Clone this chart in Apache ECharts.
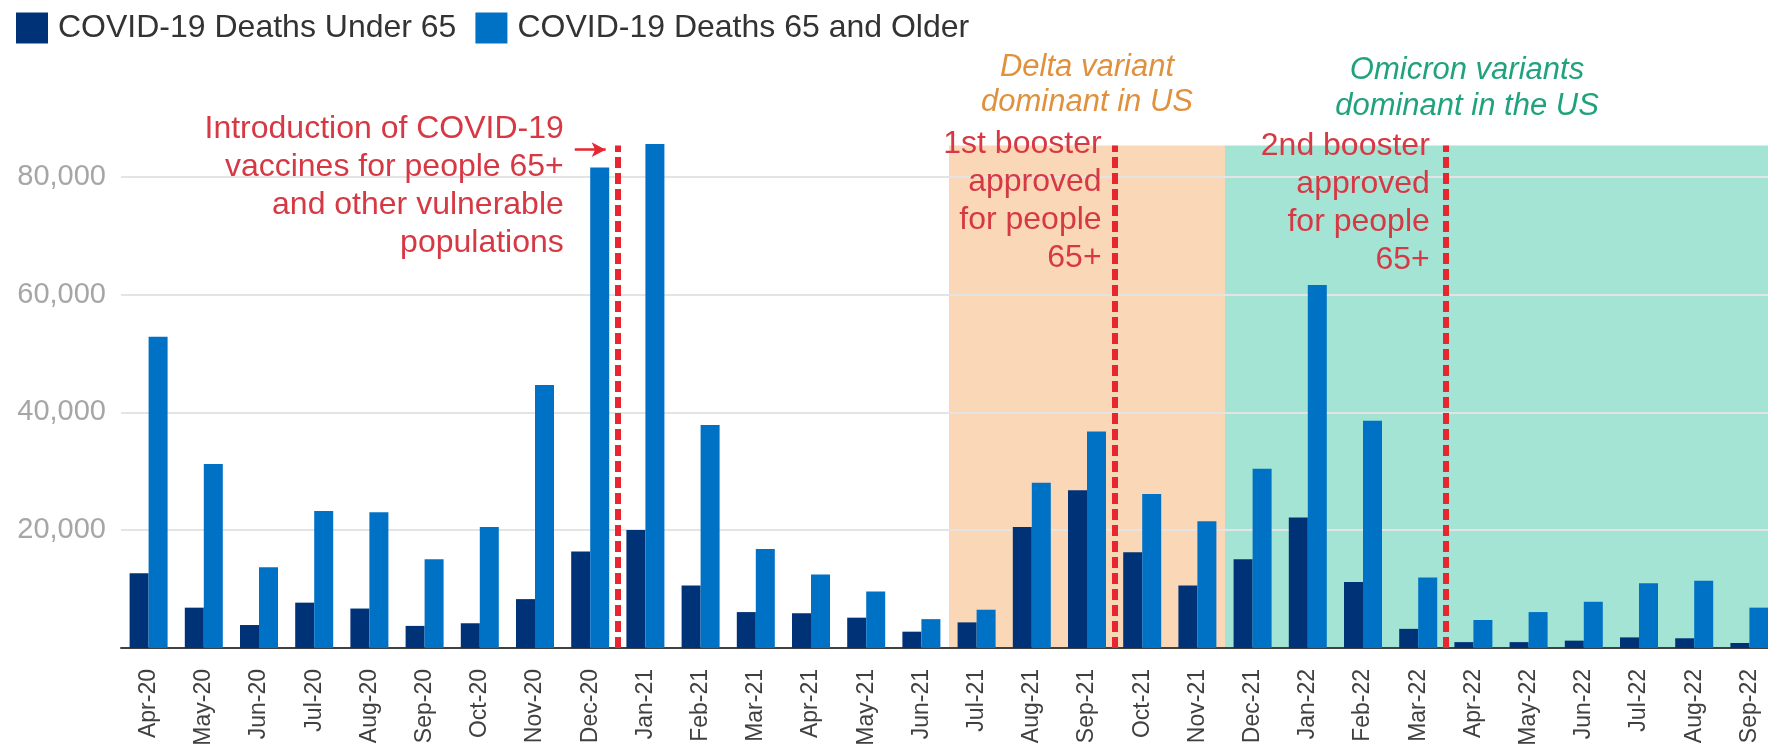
<!DOCTYPE html>
<html>
<head>
<meta charset="utf-8">
<script src="https://cdn.jsdelivr.net/npm/echarts@6/dist/echarts.min.js"></script>
<style>
html,body{margin:0;padding:0;background:#ffffff;}
#c{width:1768px;height:749px;}
</style>
</head>
<body>
<div id="c"></div>
<script>
// ---------- data ----------
const categories = ['Apr-20','May-20','Jun-20','Jul-20','Aug-20','Sep-20','Oct-20','Nov-20','Dec-20',
  'Jan-21','Feb-21','Mar-21','Apr-21','May-21','Jun-21','Jul-21','Aug-21','Sep-21','Oct-21','Nov-21','Dec-21',
  'Jan-22','Feb-22','Mar-22','Apr-22','May-22','Jun-22','Jul-22','Aug-22','Sep-22'];
const under65 = [12700, 6850, 3900, 7700, 6700, 3750, 4200, 8300, 16400,
  20050, 10600, 6100, 5900, 5150, 2770, 4350, 20550, 26800, 16250, 10600, 15050,
  22150, 11200, 3250, 1000, 1000, 1250, 1800, 1650, 850];
const over65 = [52850, 31250, 13700, 23250, 23050, 15050, 20550, 44650, 81600,
  85550, 37850, 16800, 12500, 9600, 4900, 6500, 28050, 36750, 26150, 21500, 30450,
  61650, 38600, 11950, 4750, 6100, 7850, 11000, 11400, 6850];
const seriesNames = ['COVID-19 Deaths Under 65', 'COVID-19 Deaths 65 and Older'];
const yTicks = [0, 20000, 40000, 60000, 80000, 100000];

// event positions, expressed as month-boundary indices (9 = between Dec-20 and Jan-21)
const vaccineBoundary = 9;
const boosterBoundaries = [18, 24];
const deltaPeriod = [15, 20];
const omicronPeriod = [20, 30];
const annotationTop = 85300;

const vaccineLabel = 'Introduction of COVID-19\nvaccines for people 65+\nand other vulnerable\npopulations';
const boosterLabels = ['1st booster\napproved\nfor people\n65+', '2nd booster\napproved\nfor people\n65+'];
const deltaLabel = 'Delta variant\ndominant in US';
const omicronLabel = 'Omicron variants\ndominant in the US';

// ---------- chart ----------
const FONT = "'Liberation Sans', Arial, Helvetica, sans-serif";
const RED_TEXT = '#d63844';
const RED_LINE = '#e8262f';

const chart = echarts.init(document.getElementById('c'), null, {renderer: 'canvas'});

const option = {
  animation: false,
  backgroundColor: '#ffffff',
  legend: {
    data: seriesNames,
    left: 11, top: 7,
    icon: 'rect',
    itemWidth: 32, itemHeight: 31, itemGap: 19,
    selectedMode: false,
    textStyle: {fontSize: 32, color: '#333333', fontFamily: FONT, padding: [0, 0, 0, 5]}
  },
  grid: {left: 121, top: 59, width: 1656, height: 589, containLabel: false, outerBoundsMode: 'none'},
  xAxis: [
    {
      type: 'category', data: categories,
      axisLine: {lineStyle: {color: '#404040', width: 2}},
      axisTick: {show: false},
      axisLabel: {rotate: 90, interval: 0, margin: 21, fontSize: 23, color: '#404040', fontFamily: FONT}
    },
    {type: 'value', min: 0, max: categories.length, show: false}
  ],
  yAxis: {
    type: 'value', min: yTicks[0], max: yTicks[yTicks.length - 1], interval: yTicks[1] - yTicks[0],
    axisLine: {show: false}, axisTick: {show: false},
    axisLabel: {showMinLabel: false, showMaxLabel: false, fontSize: 29, color: '#a6a6a6', margin: 15,
      fontFamily: FONT, formatter: v => v.toLocaleString('en-US')},
    splitLine: {showMinLine: false, showMaxLine: false, lineStyle: {color: '#e4e4e4', width: 2}}
  },
  series: [
    {
      name: seriesNames[0], type: 'bar', data: under65,
      barWidth: 19, barGap: '0%', z: 3,
      itemStyle: {color: '#003278'}
    },
    {
      name: seriesNames[1], type: 'bar', data: over65,
      barWidth: 19, barGap: '0%', z: 3,
      itemStyle: {color: '#0072c6'}
    },
    {
      name: 'periods', type: 'line', xAxisIndex: 1, yAxisIndex: 0, data: [], silent: true,
      markArea: {
        silent: true, z: -1,
        data: [
          [{coord: [deltaPeriod[0], 0], itemStyle: {color: '#fad8b7'}}, {coord: [deltaPeriod[1], annotationTop]}],
          [{coord: [omicronPeriod[0], 0], itemStyle: {color: '#a3e4d4'}}, {coord: [omicronPeriod[1], annotationTop]}]
        ]
      }
    },
    {
      name: 'events', type: 'line', xAxisIndex: 1, yAxisIndex: 0, data: [], silent: true,
      markLine: {
        silent: true, symbol: 'none', z: 6,
        label: {show: false},
        lineStyle: {color: RED_LINE, width: 6, type: [11, 5]},
        data: [vaccineBoundary].concat(boosterBoundaries).map(b => [{coord: [b, 0]}, {coord: [b, annotationTop]}])
      }
    },
    {
      name: 'arrow', type: 'line', xAxisIndex: 1, yAxisIndex: 0, data: [], silent: true,
      markLine: {
        silent: true, symbol: ['none', 'arrow'], symbolSize: [11, 14], z: 6,
        label: {show: false},
        lineStyle: {color: RED_LINE, width: 2.5, type: 'solid'},
        data: [[{coord: [vaccineBoundary - 0.78, 84600]}, {coord: [vaccineBoundary - 0.22, 84600]}]]
      }
    }
  ]
};
chart.setOption(option);

// text annotations anchored to the event positions via the chart's own scales
const px = u => chart.convertToPixel({xAxisIndex: 1, yAxisIndex: 0}, [u, 0])[0];
const redText = (text, x, y) => ({
  type: 'text', x: x, y: y, z: 50, silent: true,
  style: {text: text, fill: RED_TEXT, fontSize: 32, fontFamily: FONT, align: 'right', verticalAlign: 'top', lineHeight: 38}
});
const graphics = [
  redText(vaccineLabel, px(vaccineBoundary) - 54, 110),
  redText(boosterLabels[0], px(boosterBoundaries[0]) - 13, 125),
  redText(boosterLabels[1], px(boosterBoundaries[1]) - 16, 127),
  {
    type: 'text', x: px((deltaPeriod[0] + deltaPeriod[1]) / 2), y: 50, z: 50, silent: true,
    style: {text: deltaLabel, fill: '#df913e', fontSize: 31, fontStyle: 'italic', fontFamily: FONT,
      align: 'center', verticalAlign: 'top', lineHeight: 35}
  },
  {
    type: 'text', x: px(omicronPeriod[0]) + 242, y: 52, z: 50, silent: true,
    style: {text: omicronLabel, fill: '#20a37d', fontSize: 31, fontStyle: 'italic', fontFamily: FONT,
      align: 'center', verticalAlign: 'top', lineHeight: 36}
  }
];
chart.setOption({graphic: graphics});
</script>
</body>
</html>
